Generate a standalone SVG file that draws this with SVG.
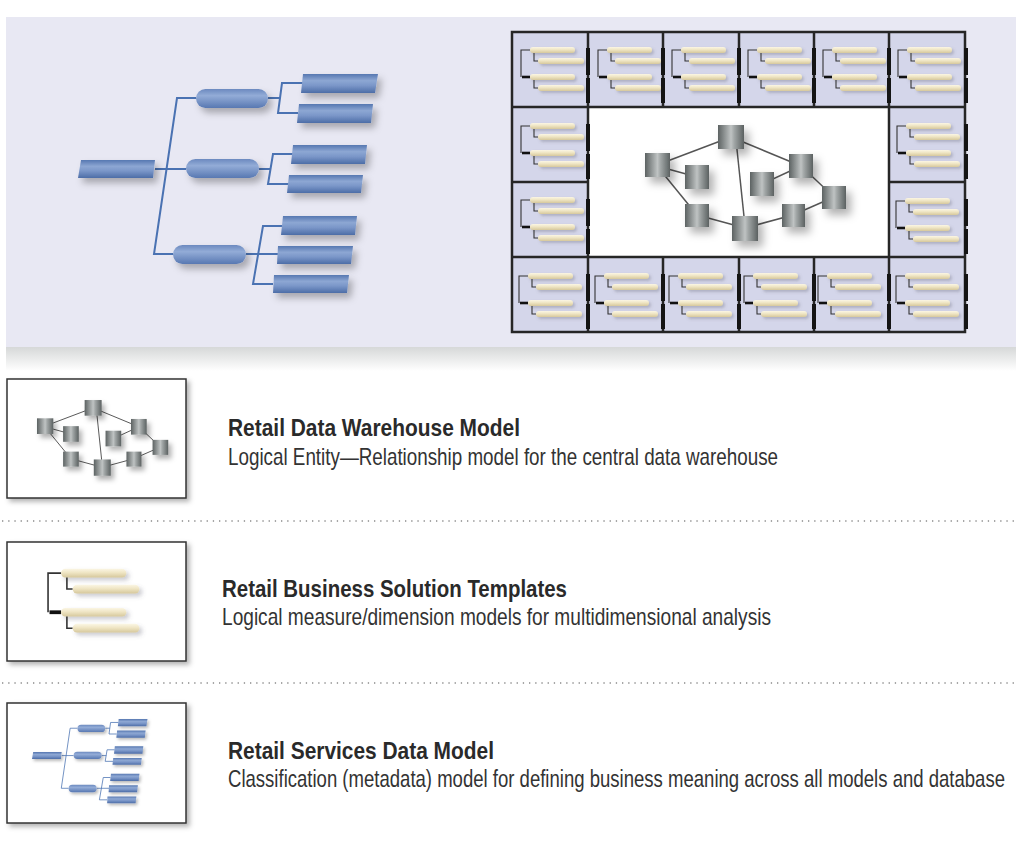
<svg xmlns="http://www.w3.org/2000/svg" xmlns:xlink="http://www.w3.org/1999/xlink" width="1016" height="848" viewBox="0 0 1016 848">
<style>
.tl{stroke:#4a72b2;stroke-width:2;fill:none}
.leaf{fill:url(#blueG);filter:url(#sh)}
.pill{fill:url(#pillG);filter:url(#sh)}
.er{fill:url(#greyG);filter:url(#sh2)}
.erl{stroke:#555;stroke-width:1.5;fill:none}
.cream{fill:url(#creamG);filter:url(#shs)}
.br{stroke:#333;stroke-width:1.1;fill:none}
.brk{stroke:#111;stroke-width:2.6;fill:none}
.grid{stroke:#262626;stroke-width:2.5;fill:none}
.bar{fill:#141414}
.box{fill:#fff;stroke:#333;stroke-width:1.5;filter:url(#shb)}
.ttl{font-family:"Liberation Sans",Arial,sans-serif;font-weight:bold;font-size:24px;fill:#2a2a2a}
.sub{font-family:"Liberation Sans",Arial,sans-serif;font-size:24px;fill:#333}
.dot{stroke:#8a8a8a;stroke-width:1.3;stroke-dasharray:1.3 4.9;fill:none}
</style>
<defs>
<filter id="sh" x="-30%" y="-50%" width="170%" height="250%"><feDropShadow dx="4" dy="5" stdDeviation="3.5" flood-color="#000" flood-opacity="0.28"/></filter>
<filter id="sh2" x="-50%" y="-50%" width="220%" height="220%"><feDropShadow dx="5" dy="6" stdDeviation="4" flood-color="#000" flood-opacity="0.3"/></filter>
<filter id="shs" x="-20%" y="-80%" width="150%" height="350%"><feDropShadow dx="2" dy="2" stdDeviation="1.5" flood-color="#556" flood-opacity="0.3"/></filter>
<filter id="shb" x="-10%" y="-10%" width="125%" height="130%"><feDropShadow dx="3" dy="3" stdDeviation="2.5" flood-color="#000" flood-opacity="0.3"/></filter>
<linearGradient id="blueG" x1="0" y1="0" x2="0" y2="1"><stop offset="0" stop-color="#5677b1"/><stop offset="0.35" stop-color="#8da7d3"/><stop offset="0.6" stop-color="#7b97c9"/><stop offset="1" stop-color="#4d6da7"/></linearGradient>
<linearGradient id="pillG" x1="0" y1="0" x2="0" y2="1"><stop offset="0" stop-color="#6b89bf"/><stop offset="0.35" stop-color="#93acd7"/><stop offset="1" stop-color="#5878b2"/></linearGradient>
<linearGradient id="greyG" x1="0" y1="0" x2="1" y2="0"><stop offset="0" stop-color="#5c6262"/><stop offset="0.5" stop-color="#bfc3c3"/><stop offset="0.62" stop-color="#a2a7a7"/><stop offset="1" stop-color="#5b6161"/></linearGradient>
<linearGradient id="creamG" x1="0" y1="0" x2="0" y2="1"><stop offset="0" stop-color="#fbf6e4"/><stop offset="0.45" stop-color="#efe5c4"/><stop offset="1" stop-color="#d6c89c"/></linearGradient>
<linearGradient id="panelSh" x1="0" y1="0" x2="0" y2="1"><stop offset="0" stop-color="#d6d8d8"/><stop offset="1" stop-color="#ffffff"/></linearGradient>
<g id="tpl">
<path class="br" d="M18,18 H9 V45"/>
<path class="brk" d="M10,45 H18"/>
<rect class="cream" x="18" y="15" width="45" height="6" rx="3"/>
<path class="br" d="M22,21 V29 H26"/>
<rect class="cream" x="26" y="26" width="46" height="6" rx="3"/>
<rect class="cream" x="18" y="42" width="45" height="6" rx="3"/>
<path class="br" d="M22,48 V56 H26"/>
<rect class="cream" x="26" y="53" width="46" height="6" rx="3"/>
</g>
</defs>

<rect width="1016" height="848" fill="#fff"/>
<rect x="6" y="347" width="1010" height="24" fill="url(#panelSh)"/>
<rect x="6" y="17" width="1010" height="330" fill="#e8e8f3"/>

<!-- Hierarchy tree -->
<g id="bigTree">
<g id="tree-connectors">
<path class="tl" d="M155,169 H186"/>
<path class="tl" d="M196,98 H177 L154,254 H173"/>
<path class="tl" d="M268,98 H280"/>
<path class="tl" d="M303,83 H282 L278,113 H298"/>
<path class="tl" d="M259,169 H271"/>
<path class="tl" d="M293,154 H273 L268,184 H289"/>
<path class="tl" d="M246,254 H278"/>
<path class="tl" d="M282,226 H263 L253,284 H273"/>
</g>
<g id="tree-root"><polygon class="leaf" points="81,160 155,160 153,178 78,178"/></g>
<g id="tree-pill1"><rect class="pill" x="196" y="89" width="72" height="19" rx="9.5"/></g>
<g id="tree-pill2"><rect class="pill" x="186" y="159" width="73" height="19" rx="9.5"/></g>
<g id="tree-pill3"><rect class="pill" x="173" y="245" width="73" height="19" rx="9.5"/></g>
<g id="tree-leaf1"><polygon class="leaf" points="303,74 378,74 375,93 301,93"/></g>
<g id="tree-leaf2"><polygon class="leaf" points="299,104 373,104 371,123 297,123"/></g>
<g id="tree-leaf3"><polygon class="leaf" points="293,145 367,145 365,164 291,164"/></g>
<g id="tree-leaf4"><polygon class="leaf" points="289,175 363,175 361,193 287,193"/></g>
<g id="tree-leaf5"><polygon class="leaf" points="283,216 357,216 355,235 281,235"/></g>
<g id="tree-leaf6"><polygon class="leaf" points="278,246 353,246 351,264 277,264"/></g>
<g id="tree-leaf7"><polygon class="leaf" points="274,275 349,275 347,293 273,293"/></g>
</g>

<!-- Grid of templates -->
<g id="templateGrid">
<rect x="512" y="32" width="453" height="300" fill="#d4d6ea"/>
<rect x="588" y="107" width="301" height="150" fill="#fff"/>
<g id="cells">
<use href="#tpl" transform="translate(512,32)"/>
<use href="#tpl" transform="translate(589,32)"/>
<use href="#tpl" transform="translate(663,32)"/>
<use href="#tpl" transform="translate(739,32)"/>
<use href="#tpl" transform="translate(814,32)"/>
<use href="#tpl" transform="translate(889,32)"/>
<use href="#tpl" transform="translate(512,108)"/>
<use href="#tpl" transform="translate(888,108)"/>
<use href="#tpl" transform="translate(512,182)"/>
<use href="#tpl" transform="translate(887,183)"/>
<use href="#tpl" transform="translate(510,258)"/>
<use href="#tpl" transform="translate(586,258)"/>
<use href="#tpl" transform="translate(660,258)"/>
<use href="#tpl" transform="translate(735,258)"/>
<use href="#tpl" transform="translate(809,258)"/>
<use href="#tpl" transform="translate(887,258)"/>
</g>
<g id="grid-lines">
<rect class="grid" x="512" y="32" width="453" height="300"/>
<path class="grid" d="M512,107 H965 M512,257 H965 M512,182 H588 M889,182 H965 M588,32 V332 M889,32 V332 M663,32 V107 M739,32 V107 M814,32 V107 M663,257 V332 M739,257 V332 M814,257 V332"/>
</g>
<g id="grid-bars">
<rect class="bar" x="586" y="48" width="4" height="27"/><rect class="bar" x="586" y="78" width="4" height="25"/>
<rect class="bar" x="661" y="48" width="4" height="27"/><rect class="bar" x="661" y="78" width="4" height="25"/>
<rect class="bar" x="737" y="48" width="4" height="27"/><rect class="bar" x="737" y="78" width="4" height="25"/>
<rect class="bar" x="812" y="48" width="4" height="27"/><rect class="bar" x="812" y="78" width="4" height="25"/>
<rect class="bar" x="887" y="48" width="4" height="27"/><rect class="bar" x="887" y="78" width="4" height="25"/>
<rect class="bar" x="964" y="48" width="4" height="27"/><rect class="bar" x="964" y="78" width="4" height="25"/>
<rect class="bar" x="586" y="124" width="4" height="27"/><rect class="bar" x="586" y="154" width="4" height="25"/>
<rect class="bar" x="964" y="124" width="4" height="27"/><rect class="bar" x="964" y="154" width="4" height="25"/>
<rect class="bar" x="586" y="199" width="4" height="27"/><rect class="bar" x="586" y="229" width="4" height="25"/>
<rect class="bar" x="964" y="199" width="4" height="27"/><rect class="bar" x="964" y="229" width="4" height="25"/>
<rect class="bar" x="586" y="274" width="4" height="27"/><rect class="bar" x="586" y="304" width="4" height="25"/>
<rect class="bar" x="661" y="274" width="4" height="27"/><rect class="bar" x="661" y="304" width="4" height="25"/>
<rect class="bar" x="737" y="274" width="4" height="27"/><rect class="bar" x="737" y="304" width="4" height="25"/>
<rect class="bar" x="812" y="274" width="4" height="27"/><rect class="bar" x="812" y="304" width="4" height="25"/>
<rect class="bar" x="887" y="274" width="4" height="27"/><rect class="bar" x="887" y="304" width="4" height="25"/>
<rect class="bar" x="964" y="274" width="4" height="27"/><rect class="bar" x="964" y="304" width="4" height="25"/>
</g>
</g>

<!-- ER diagram -->
<g id="erDiagram">
<g id="er-connectors">
<path class="erl" d="M657,165 L731,137"/>
<path class="erl" d="M657,166 L697,177"/>
<path class="erl" d="M657,166 L697,215"/>
<path class="erl" d="M731,137 L801,166"/>
<path class="erl" d="M736,140 L745,226"/>
<path class="erl" d="M762,184 L801,166"/>
<path class="erl" d="M801,166 L834,197"/>
<path class="erl" d="M834,197 L793,215"/>
<path class="erl" d="M793,215 L745,228"/>
<path class="erl" d="M697,215 L745,228"/>
</g>
<g id="er-a"><rect class="er" x="645" y="153" width="25" height="24"/></g>
<g id="er-b"><rect class="er" x="685" y="165" width="24" height="24"/></g>
<g id="er-c"><rect class="er" x="718" y="125" width="26" height="24"/></g>
<g id="er-d"><rect class="er" x="750" y="172" width="24" height="24"/></g>
<g id="er-e"><rect class="er" x="789" y="154" width="24" height="24"/></g>
<g id="er-f"><rect class="er" x="822" y="186" width="24" height="23"/></g>
<g id="er-g"><rect class="er" x="685" y="204" width="24" height="23"/></g>
<g id="er-h"><rect class="er" x="732" y="216" width="26" height="25"/></g>
<g id="er-i"><rect class="er" x="782" y="204" width="23" height="23"/></g>
</g>

<!-- Separators -->
<g id="separators">
<path class="dot" d="M2,521 H1016"/>
<path class="dot" d="M2,683 H1016"/>
</g>

<!-- Legend 1 -->
<g id="legend-warehouse">
<rect class="box" x="7" y="379" width="179" height="119"/>
<use href="#erDiagram" transform="translate(-384.2,318.4) scale(0.653)"/>
<text class="ttl" x="228" y="436" textLength="292" lengthAdjust="spacingAndGlyphs">Retail Data Warehouse Model</text>
<text class="sub" x="228" y="465" textLength="550" lengthAdjust="spacingAndGlyphs">Logical Entity—Relationship model for the central data warehouse</text>
</g>

<!-- Legend 2 -->
<g id="legend-templates">
<rect class="box" x="7" y="542" width="179" height="119"/>
<use href="#tpl" transform="translate(35,547) scale(1.45)"/>
<text class="ttl" x="222" y="597" textLength="345" lengthAdjust="spacingAndGlyphs">Retail Business Solution Templates</text>
<text class="sub" x="222" y="625" textLength="549" lengthAdjust="spacingAndGlyphs">Logical measure/dimension models for multidimensional analysis</text>
</g>

<!-- Legend 3 -->
<g id="legend-services">
<rect class="box" x="7" y="703" width="179" height="120"/>
<use href="#bigTree" transform="translate(2,690.5) scale(0.385)"/>
<text class="ttl" x="228" y="759" textLength="266" lengthAdjust="spacingAndGlyphs">Retail Services Data Model</text>
<text class="sub" transform="translate(228,787) scale(0.7,1)" x="0" y="0" textLength="1110" lengthAdjust="spacingAndGlyphs">Classification (metadata) model for defining business meaning across all models and database</text>
</g>
</svg>
